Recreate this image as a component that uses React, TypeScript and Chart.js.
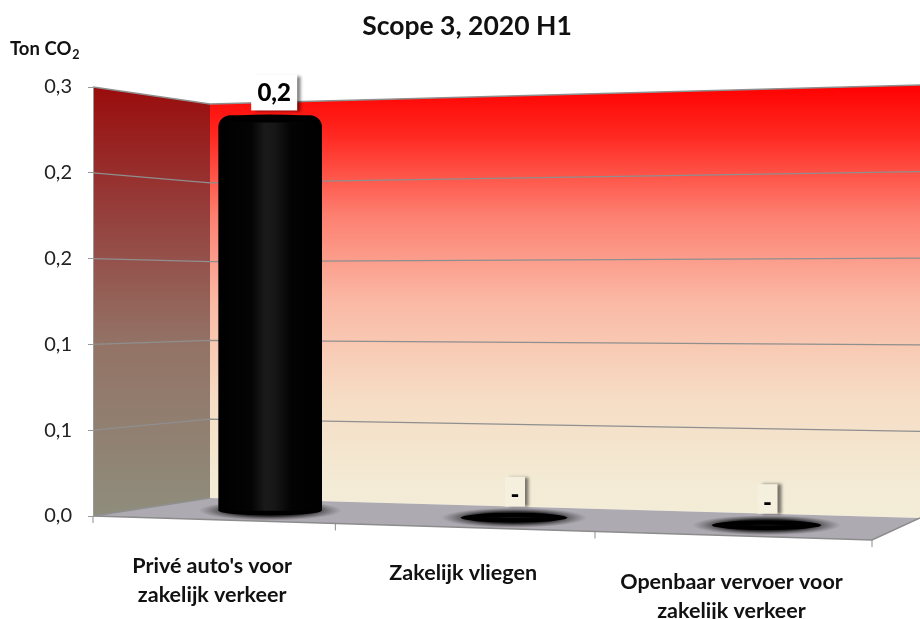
import React, { useEffect, useRef } from "react";
import { Chart, registerables } from "chart.js";

Chart.register(...registerables);

const categories = [
  ["Privé auto's voor", "zakelijk verkeer"],
  ["Zakelijk vliegen"],
  ["Openbaar vervoer voor", "zakelijk verkeer"],
];
const tonCO2 = [0.24, 0, 0];
const dataLabels = ["0,2", "-", "-"];
const yTickLabels = ["0,0", "0,1", "0,1", "0,2", "0,2", "0,3"];
const chartTitle = "Scope 3, 2020 H1";
const yAxisTitle = "Ton CO";
const yAxisTitleSub = "2";
const FONT = "Lato, 'Open Sans', sans-serif";

// 3D box projection, relative to the chart area (left/top/bottom of the front plane = chart area).
const FRONT_RIGHT_INSET = 48; // the front plane stops short of the canvas' right edge
const BACK_LEFT_DX = 117; // back wall's left edge
const BACK_BOTTOM_L = -18; // back wall's bottom-left vs axis zero
const BACK_BOTTOM_R = 2;
const BACK_TOP_L = 17; // back wall's top-left vs axis max
const BACK_TOP_R = -2;
const FLOOR_DROP = 24; // how far the front edge slopes down across the chart

const warp = (f: number) => f - 0.1 * f * (1 - f);
const lerp = (a: number, b: number, t: number) => a + (b - a) * t;

function frontPoint(chart: any, f: number) {
  const { left, right, bottom } = chart.chartArea;
  const g = warp(f);
  return { x: lerp(left, right - FRONT_RIGHT_INSET, g), y: bottom + FLOOR_DROP * g };
}
function backPoint(chart: any, f: number, t = 0) {
  const { left, right, bottom, top } = chart.chartArea;
  const x = lerp(left + BACK_LEFT_DX, right, f);
  const yb = lerp(bottom + BACK_BOTTOM_L, bottom + BACK_BOTTOM_R, f);
  const yt = lerp(top + BACK_TOP_L, top + BACK_TOP_R, f);
  return { x, y: lerp(yb, yt, t) };
}
function barFoot(chart: any, i: number) {
  const f = (i + 0.5) / categories.length;
  const a = frontPoint(chart, f);
  const b = backPoint(chart, f);
  return { x: (a.x + b.x) / 2, y: (a.y + b.y) / 2 };
}

function poly(ctx: CanvasRenderingContext2D, pts: { x: number; y: number }[]) {
  ctx.beginPath();
  pts.forEach((p, i) => (i ? ctx.lineTo(p.x, p.y) : ctx.moveTo(p.x, p.y)));
  ctx.closePath();
}

const scene3D = {
  id: "scene3D",
  afterDatasetsUpdate(chart: any) {
    const y = chart.scales.y;
    const meta = chart.getDatasetMeta(0);
    const zero = y.getPixelForValue(0);
    const { top, bottom } = chart.chartArea;
    const H = bottom - top;
    const depth = (H + (H + BACK_BOTTOM_L - BACK_TOP_L)) / 2 / H;
    meta.data.forEach((el: any, i: number) => {
      const foot = barFoot(chart, i);
      const h = (zero - el.y) * depth;
      el.x = foot.x;
      el.base = foot.y;
      el.y = foot.y - h;
      el.height = h;
      el.width = 103 * (1 + 0.028 * i);
    });
  },
  beforeDraw(chart: any) {
    const { ctx, chartArea: a, scales } = chart;
    const y = scales.y;
    const bl = backPoint(chart, 0);
    const br = backPoint(chart, 1);
    const tl = backPoint(chart, 0, 1);
    const tr = backPoint(chart, 1, 1);
    const fl = frontPoint(chart, 0);
    const fr = frontPoint(chart, 1);
    ctx.save();

    // left wall
    const lg = ctx.createLinearGradient(0, a.top, 0, a.bottom);
    lg.addColorStop(0, "#9a0c0c");
    lg.addColorStop(0.3, "#95403d");
    lg.addColorStop(0.6, "#937366");
    lg.addColorStop(1, "#8f8d7c");
    ctx.fillStyle = lg;
    poly(ctx, [{ x: a.left, y: a.top }, tl, bl, { x: a.left, y: a.bottom }]);
    ctx.fill();

    // back wall
    const bg = ctx.createLinearGradient(0, tr.y, 0, br.y);
    bg.addColorStop(0, "#ff0000");
    bg.addColorStop(0.12, "#ff2a22");
    bg.addColorStop(0.3, "#fd7f70");
    bg.addColorStop(0.5, "#fab9a5");
    bg.addColorStop(0.72, "#f6dcc4");
    bg.addColorStop(0.92, "#f3ebd5");
    bg.addColorStop(1, "#f3ecd7");
    ctx.fillStyle = bg;
    poly(ctx, [tl, tr, br, bl]);
    ctx.fill();

    // floor
    ctx.fillStyle = "#aeaab2";
    poly(ctx, [bl, br, fr, fl]);
    ctx.fill();

    ctx.strokeStyle = "#8c8c8c";
    ctx.lineWidth = 1.5;
    ctx.beginPath();
    ctx.moveTo(fl.x, fl.y);
    ctx.lineTo(fr.x, fr.y);
    ctx.lineTo(br.x, br.y);
    ctx.stroke();

    // wall grid lines
    ctx.strokeStyle = "#8f8f8f";
    ctx.lineWidth = 1.3;
    y.ticks.forEach((tick: any) => {
      const t = tick.value / y.max;
      const l = backPoint(chart, 0, t);
      const r = backPoint(chart, 1, t);
      ctx.beginPath();
      ctx.moveTo(a.left, y.getPixelForValue(tick.value));
      ctx.lineTo(l.x, l.y);
      if (t > 0) ctx.lineTo(r.x, r.y);
      ctx.stroke();
    });

    // category ticks on the front edge
    ctx.lineWidth = 1;
    ctx.strokeStyle = "#8c8c8c";
    for (let i = 0; i <= categories.length; i++) {
      const p = frontPoint(chart, i / categories.length);
      ctx.beginPath();
      ctx.moveTo(p.x, p.y);
      ctx.lineTo(p.x, p.y + 7);
      ctx.stroke();
    }

    // category labels
    ctx.fillStyle = "#111";
    ctx.font = `bold 21.5px ${FONT}`;
    ctx.textAlign = "center";
    ctx.textBaseline = "middle";
    categories.forEach((lines, i) => {
      const p0 = frontPoint(chart, i / categories.length);
      const p1 = frontPoint(chart, (i + 1) / categories.length);
      const cx = (p0.x + p1.x) / 2 - 2;
      const cy = (p0.y + p1.y) / 2 + 46;
      lines.forEach((s, j) => ctx.fillText(s, cx, cy + j * 29));
    });

    // unit label
    ctx.font = `bold 18.5px ${FONT}`;
    ctx.textAlign = "left";
    ctx.textBaseline = "alphabetic";
    ctx.fillText(yAxisTitle, 10, 55);
    const w = ctx.measureText(yAxisTitle).width;
    ctx.font = `bold 12.5px ${FONT}`;
    ctx.fillText(yAxisTitleSub, 10 + w + 1, 59);
    ctx.restore();
  },
  beforeDatasetsDraw(chart: any) {
    const { ctx } = chart;
    const meta = chart.getDatasetMeta(0);
    ctx.save();
    meta.data.forEach((el: any) => {
      const rx = el.width / 2;
      // soft contact shadow
      ctx.save();
      ctx.translate(el.x, el.base);
      ctx.scale(1, 10 / (rx + 20));
      const g = ctx.createRadialGradient(0, 0, rx * 0.8, 0, 0, rx + 20);
      g.addColorStop(0, "rgba(20,20,20,0.85)");
      g.addColorStop(1, "rgba(60,60,60,0)");
      ctx.fillStyle = g;
      ctx.beginPath();
      ctx.arc(0, 0, rx + 20, 0, Math.PI * 2);
      ctx.fill();
      ctx.restore();
      // foot of the cylinder
      ctx.fillStyle = "#000";
      ctx.beginPath();
      ctx.ellipse(el.x, el.base, rx, 5, 0, 0, Math.PI * 2);
      ctx.fill();
    });
    ctx.restore();
  },
  afterDatasetsDraw(chart: any) {
    const { ctx, chartArea: a } = chart;
    const meta = chart.getDatasetMeta(0);
    ctx.save();
    meta.data.forEach((el: any, i: number) => {
      const hasBar = el.base - el.y > 1;
      if (hasBar) {
        ctx.fillStyle = "#000";
        ctx.beginPath();
        ctx.ellipse(el.x, el.y + 3, el.width / 2 - 10, 4, 0, 0, Math.PI * 2);
        ctx.fill();
      }
      // data label with its boxed shadow
      const cx = el.x + (hasBar ? 4 : 1);
      const cy = el.y - 23;
      const halfW = hasBar ? 23 : 10;
      const bl = backPoint(chart, 0);
      const f = (cx - bl.x) / (a.right - bl.x);
      const wallBottom = backPoint(chart, f).y;
      const boxBottom = hasBar ? cy + 18 : Math.min(cy + 18, wallBottom);
      ctx.save();
      ctx.shadowColor = "rgba(0,0,0,0.5)";
      ctx.shadowBlur = 3;
      ctx.shadowOffsetX = 4;
      ctx.shadowOffsetY = hasBar ? 2 : 0;
      ctx.fillStyle = hasBar ? "#ffffff" : "#f5efdd";
      ctx.fillRect(cx - halfW, cy - 18, halfW * 2, boxBottom - (cy - 18));
      ctx.restore();
      ctx.fillStyle = "#000";
      ctx.font = `900 24px ${FONT}`;
      ctx.textAlign = "center";
      ctx.textBaseline = "middle";
      ctx.fillText(dataLabels[i], cx, cy + 1);
    });
    ctx.restore();
  },
};

export default function App() {
  const ref = useRef<HTMLCanvasElement>(null);
  useEffect(() => {
    const chart = new Chart(ref.current as HTMLCanvasElement, {
      type: "bar",
      data: {
        labels: categories.map((c) => c.join(" ")),
        datasets: [
          {
            data: tonCO2,
            barThickness: 103,
            clip: false as any,
            borderRadius: { topLeft: 12, topRight: 12, bottomLeft: 0, bottomRight: 0 },
            borderSkipped: false,
            backgroundColor: (c: any) => {
              const area = c.chart.chartArea;
              if (!area) return "#000";
              const foot = barFoot(c.chart, c.dataIndex);
              const g = c.chart.ctx.createLinearGradient(foot.x - 52, 0, foot.x + 52, 0);
              g.addColorStop(0, "#000");
              g.addColorStop(0.32, "#040404");
              g.addColorStop(0.45, "#1a1a1a");
              g.addColorStop(0.55, "#161616");
              g.addColorStop(0.7, "#030303");
              g.addColorStop(1, "#000");
              return g;
            },
          } as any,
        ],
      },
      options: {
        responsive: false,
        animation: false,
        layout: { padding: { left: 14, right: 0, top: 0, bottom: 103 } },
        plugins: {
          legend: { display: false },
          tooltip: { enabled: false },
          title: {
            display: true,
            text: chartTitle,
            color: "#111",
            font: { family: FONT, size: 26.5, weight: "bold" },
            padding: { top: 11, bottom: 44.2 },
          },
        },
        scales: {
          x: { display: false },
          y: {
            min: 0,
            max: 0.25,
            afterFit: (s: any) => {
              s.width = 79;
            },
            border: { display: true, color: "#999999" },
            grid: { drawOnChartArea: false, drawTicks: true, tickLength: 5, color: "#999999" },
            ticks: {
              stepSize: 0.05,
              padding: 16,
              color: "#222",
              font: { family: FONT, size: 20 },
              callback: (_v: any, i: number) => yTickLabels[i],
            },
          },
        },
      },
      plugins: [scene3D],
    } as any);
    return () => chart.destroy();
  }, []);
  return (
    <canvas
      ref={ref}
      width={920}
      height={619}
      style={{ position: "absolute", left: 0, top: 0, display: "block" }}
    />
  );
}
